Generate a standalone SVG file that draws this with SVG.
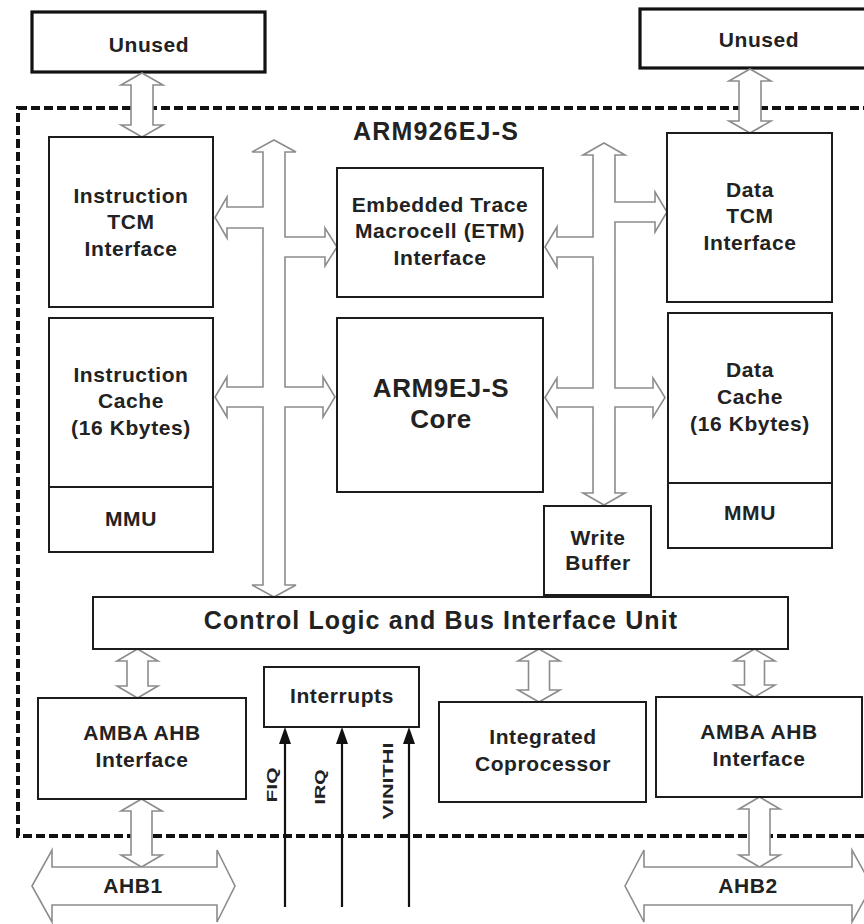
<svg xmlns="http://www.w3.org/2000/svg" width="864" height="924" viewBox="0 0 864 924">
<style>
.bx{fill:#fff;stroke:#1c1c1c;stroke-width:2}
.bx3{fill:#fff;stroke:#111;stroke-width:3.2}
.t{font-family:"Liberation Sans",Arial,sans-serif;font-weight:bold;font-size:21px;letter-spacing:0.6px;fill:#222;text-anchor:middle}
.big{font-size:25px;letter-spacing:1.2px}
.core{font-size:26px;letter-spacing:0.6px}
.cl{font-size:25px;letter-spacing:1.1px}
.rt{font-size:15px;letter-spacing:0}
.ar{fill:#fff;stroke:#8c8c8c;stroke-width:1.6;stroke-linejoin:miter}
.sig{stroke:#111;stroke-width:2.2;fill:none}
.hd{fill:#111}
.dash{fill:none;stroke:#111;stroke-width:4;stroke-dasharray:9 4}
</style>
<rect width="864" height="924" fill="#fff"/>

<g id="arm926-boundary">
<rect class="dash" x="18" y="108" width="852" height="728"/>
<text class="t big" x="436" y="140">ARM926EJ-S</text>
</g>

<g id="unused-left"><rect class="bx3" x="32" y="12" width="233" height="60"/><text class="t" x="149" y="52">Unused</text></g>
<g id="unused-right"><rect class="bx3" x="640" y="9" width="232" height="59"/><text class="t" x="759" y="47">Unused</text></g>

<g id="connectors">
<polygon class="ar" points="142,73 163,85 153,85 153,125 163,125 142,137 121,125 131,125 131,85 121,85"/>
<polygon class="ar" points="750,69 771,81 761,81 761,121 771,121 750,133 729,121 739,121 739,81 729,81"/>
<polygon class="ar" points="137.5,649 158,661 148,661 148,686 158,686 137.5,698 117,686 127,686 127,661 117,661"/>
<polygon class="ar" points="539,649 560,661 549.5,661 549.5,690 560,690 539,702 518,690 528.5,690 528.5,661 518,661"/>
<polygon class="ar" points="754.5,649 775,661 764.5,661 764.5,685 775,685 754.5,697 734,685 744.5,685 744.5,661 734,661"/>
<polygon class="ar" points="141.5,799 162,811 152,811 152,855 162,855 141.5,867 121,855 131,855 131,811 121,811"/>
<polygon class="ar" points="759.5,797 780,809 770,809 770,855 780,855 759.5,867 739,855 749,855 749,809 739,809"/>
<polygon class="ar" points="32,886 52,850 52,867 217,867 217,850 235,886 217,922 217,905 52,905 52,922"/>
<polygon class="ar" points="625,886 644,850 644,867 852,867 852,850 872,886 852,922 852,905 644,905 644,922"/>
<polygon class="ar" points="274,140 296,152 285,152 285,237 325,237 325,228 337,247 325,266 325,257 285,257 285,387 323,387 323,377 335,397 323,417 323,407 285,407 285,585 296,585 274,597 252,585 263,585 263,407 227,407 227,417 215,397 227,377 227,387 263,387 263,228 227,228 227,238 215,217.5 227,197 227,207 263,207 263,152 252,152"/>
<polygon class="ar" points="604,143 625,155 615,155 615,202 655,202 655,192 667,212 655,232 655,222 615,222 615,388 653,388 653,378 665,397.5 653,417 653,407 615,407 615,493 625,493 604,505 583,493 593,493 593,407 557,407 557,417 545,397.5 557,378 557,388 593,388 593,257 557,257 557,267 545,247 557,227 557,237 593,237 593,155 583,155"/>
<line class="sig" x1="285" y1="907" x2="285" y2="742"/>
<polygon class="hd" points="285,727 279,744 291,744"/>
<line class="sig" x1="342" y1="907" x2="342" y2="742"/>
<polygon class="hd" points="342,727 336,744 348,744"/>
<line class="sig" x1="409" y1="907" x2="409" y2="742"/>
<polygon class="hd" points="409,727 403,744 415,744"/>
<text class="t rt" x="277" y="785" transform="rotate(-90 277 785)" textLength="35" lengthAdjust="spacingAndGlyphs">FIQ</text>
<text class="t rt" x="325" y="787" transform="rotate(-90 325 787)" textLength="35" lengthAdjust="spacingAndGlyphs">IRQ</text>
<text class="t rt" x="393" y="781" transform="rotate(-90 393 781)" textLength="77" lengthAdjust="spacingAndGlyphs">VINITHI</text>
<text class="t" x="133" y="893">AHB1</text>
<text class="t" x="748" y="893">AHB2</text>
</g>

<g id="itcm"><rect class="bx" x="49" y="137" width="164" height="170"/>
<text class="t" x="131" y="203">Instruction</text><text class="t" x="131" y="229">TCM</text><text class="t" x="131" y="256">Interface</text></g>

<g id="icache"><rect class="bx" x="49" y="318" width="164" height="169"/>
<text class="t" x="131" y="382">Instruction</text><text class="t" x="131" y="408">Cache</text><text class="t" x="131" y="435">(16 Kbytes)</text></g>

<g id="immu"><rect class="bx" x="49" y="487" width="164" height="65"/><text class="t" x="131" y="526">MMU</text></g>

<g id="etm"><rect class="bx" x="337" y="168" width="206" height="129"/>
<text class="t" x="440" y="212">Embedded Trace</text><text class="t" x="440" y="238">Macrocell (ETM)</text><text class="t" x="440" y="265">Interface</text></g>

<g id="core"><rect class="bx" x="337" y="318" width="206" height="174"/>
<text class="t core" x="441" y="397">ARM9EJ-S</text><text class="t core" x="441" y="428">Core</text></g>

<g id="dtcm"><rect class="bx" x="667" y="133" width="165" height="169"/>
<text class="t" x="750" y="197">Data</text><text class="t" x="750" y="223">TCM</text><text class="t" x="750" y="250">Interface</text></g>

<g id="dcache"><rect class="bx" x="668" y="313" width="164" height="170"/>
<text class="t" x="750" y="377">Data</text><text class="t" x="750" y="404">Cache</text><text class="t" x="750" y="431">(16 Kbytes)</text></g>

<g id="dmmu"><rect class="bx" x="668" y="483" width="164" height="65"/><text class="t" x="750" y="520">MMU</text></g>

<g id="write-buffer"><rect class="bx" x="544" y="506" width="107" height="89"/>
<text class="t" x="598" y="545">Write</text><text class="t" x="598" y="570">Buffer</text></g>

<g id="control-logic"><rect class="bx" x="93" y="597" width="695" height="52"/>
<text class="t cl" x="441" y="629">Control Logic and Bus Interface Unit</text></g>

<g id="interrupts"><rect class="bx" x="264" y="667" width="155" height="60"/><text class="t" x="342" y="703">Interrupts</text></g>

<g id="amba-left"><rect class="bx" x="38" y="698" width="208" height="101"/>
<text class="t" x="142" y="740">AMBA AHB</text><text class="t" x="142" y="767">Interface</text></g>

<g id="coprocessor"><rect class="bx" x="439" y="702" width="207" height="100"/>
<text class="t" x="543" y="744">Integrated</text><text class="t" x="543" y="771">Coprocessor</text></g>

<g id="amba-right"><rect class="bx" x="656" y="697" width="206" height="100"/>
<text class="t" x="759" y="739">AMBA AHB</text><text class="t" x="759" y="766">Interface</text></g>
</svg>
